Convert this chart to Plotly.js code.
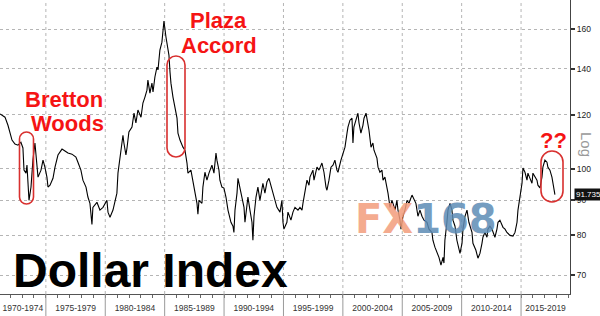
<!DOCTYPE html>
<html>
<head>
<meta charset="utf-8">
<script src="https://cdn.plot.ly/plotly-3.0.1.min.js"></script>
<style>
html,body{margin:0;padding:0;background:#fff;}
#chart{width:600px;height:316px;}
</style>
</head>
<body>
<div id="chart"></div>
<script>
// ---- data ----
const periodStarts = [1970, 1975, 1980, 1985, 1990, 1995, 2000, 2005, 2010, 2015];
const periodLabels = ['1970-1974', '1975-1979', '1980-1984', '1985-1989', '1990-1994',
                      '1995-1999', '2000-2004', '2005-2009', '2010-2014', '2015-2019'];
const yTicks = [70, 80, 90, 100, 120, 140, 160];
const yTickText = ['70', '80', '90', '100', '120', '140', '160'];
const lastValue = 91.735;

const dxyYears = [
 1971.14,1971.56,1971.81,1972.15,1972.40,1972.65,1972.90,1973.07,1973.16,1973.33,
 1973.41,1973.49,1973.58,1973.75,1973.83,1973.91,1974.08,1974.25,1974.34,1974.59,
 1974.76,1974.92,1975.09,1975.18,1975.35,1975.60,1975.77,1976.02,1976.36,1976.61,
 1976.86,1977.20,1977.53,1977.70,1977.95,1978.12,1978.38,1978.54,1978.71,1978.88,
 1978.96,1979.30,1979.55,1979.81,1980.14,1980.23,1980.40,1980.65,1980.98,1981.07,
 1981.32,1981.49,1981.57,1981.74,1981.83,1981.99,1982.25,1982.42,1982.58,1982.75,
 1983.01,1983.17,1983.34,1983.51,1983.59,1983.76,1983.93,1984.02,1984.18,1984.35,
 1984.44,1984.60,1984.77,1984.86,1984.94,1985.11,1985.19,1985.36,1985.45,1985.53,
 1985.70,1985.87,1986.04,1986.12,1986.29,1986.54,1986.71,1986.88,1986.96,1987.21,
 1987.38,1987.55,1987.72,1987.80,1987.89,1988.14,1988.22,1988.39,1988.56,1988.73,
 1988.98,1989.15,1989.32,1989.40,1989.57,1989.65,1989.82,1989.99,1990.16,1990.33,
 1990.58,1990.75,1990.83,1990.92,1991.09,1991.17,1991.34,1991.51,1991.68,1991.76,
 1991.93,1992.01,1992.18,1992.35,1992.43,1992.52,1992.69,1992.85,1993.02,1993.27,
 1993.44,1993.61,1993.78,1993.95,1994.12,1994.28,1994.45,1994.71,1994.87,1994.96,
 1995.04,1995.29,1995.38,1995.63,1995.80,1995.97,1996.22,1996.39,1996.56,1996.64,
 1996.81,1996.98,1997.15,1997.23,1997.48,1997.57,1997.82,1997.99,1998.24,1998.41,
 1998.58,1998.66,1998.83,1999.00,1999.17,1999.33,1999.50,1999.59,1999.84,2000.01,
 2000.18,2000.35,2000.43,2000.60,2000.77,2000.85,2000.93,2001.10,2001.27,2001.36,
 2001.52,2001.69,2001.78,2001.95,2002.03,2002.20,2002.37,2002.53,2002.62,2002.87,
 2002.96,2003.12,2003.29,2003.38,2003.54,2003.71,2003.80,2003.97,2004.13,2004.22,
 2004.39,2004.55,2004.64,2004.81,2004.89,2005.06,2005.23,2005.40,2005.56,2005.82,
 2005.99,2006.15,2006.32,2006.49,2006.66,2006.83,2007.08,2007.25,2007.50,2007.58,
 2007.75,2007.92,2008.09,2008.26,2008.43,2008.51,2008.59,2008.76,2008.85,2009.02,
 2009.18,2009.27,2009.44,2009.60,2009.86,2010.03,2010.11,2010.28,2010.45,2010.61,
 2010.87,2010.95,2011.20,2011.37,2011.54,2011.71,2011.79,2011.96,2012.13,2012.21,
 2012.38,2012.55,2012.63,2012.80,2012.97,2013.06,2013.22,2013.39,2013.48,2013.65,
 2013.81,2014.07,2014.32,2014.49,2014.66,2014.74,2014.91,2015.08,2015.16,2015.33,
 2015.50,2015.58,2015.75,2015.92,2016.00,2016.17,2016.34,2016.42,2016.59,2016.76,
 2016.84,2017.01,2017.18,2017.26,2017.43,2017.60,2017.69,2017.81,2017.85
];
const dxyValues = [
 120.3,119.0,115.8,110.2,108.7,108.3,109.4,107.3,99.6,98.6,
 101.3,96.3,90.0,94.1,98.6,103.0,109.1,100.6,97.3,99.6,
 103.0,100.6,97.3,94.1,94.7,96.9,100.6,104.8,106.9,106.2,
 105.5,105.1,104.1,102.3,99.6,96.3,94.1,91.0,89.1,83.0,
 87.9,89.4,87.1,87.9,90.0,86.5,85.0,87.1,92.2,98.6,
 107.6,112.0,109.1,104.8,107.3,113.2,115.1,120.6,116.7,121.9,
 119.0,124.8,127.3,130.3,134.8,129.0,133.4,129.5,136.2,140.8,
 139.5,149.1,153.1,157.9,164.4,155.8,152.6,146.6,138.5,133.4,
 127.3,123.1,118.6,112.8,110.2,107.6,106.5,102.0,98.6,99.6,
 95.7,92.2,89.1,85.9,90.0,89.1,94.1,98.9,96.3,98.6,
 101.3,98.6,105.5,103.0,99.6,96.3,94.1,93.8,91.0,87.1,
 83.6,82.5,80.8,87.1,92.2,96.9,94.1,91.0,87.9,83.6,
 90.0,91.0,87.1,83.6,78.7,85.3,91.0,94.1,90.0,95.3,
 92.2,95.7,96.9,94.7,92.2,90.0,87.9,86.5,90.0,83.6,
 81.7,83.6,86.5,84.2,86.5,87.9,87.1,87.9,87.1,89.1,
 92.2,96.3,94.7,97.3,99.6,96.3,100.6,99.6,102.0,98.9,
 94.1,93.1,96.3,100.6,101.3,103.0,99.6,98.9,103.0,105.8,
 107.6,112.8,115.1,117.8,118.6,109.1,115.1,117.8,120.6,116.7,
 112.8,115.8,118.6,120.6,118.6,113.9,107.6,109.1,106.5,103.7,
 100.6,98.9,99.6,96.3,97.3,94.1,92.2,87.9,90.0,89.1,
 87.1,90.0,87.1,84.2,81.7,85.3,87.1,90.0,89.1,91.6,
 90.0,89.1,85.3,87.1,85.3,84.2,83.6,81.7,80.8,78.7,
 76.9,75.6,74.3,72.4,74.3,72.9,78.7,83.6,87.1,89.1,
 87.1,84.2,82.5,78.7,75.3,77.9,81.7,85.3,87.1,83.6,
 80.8,77.9,76.1,74.1,75.3,77.9,79.5,80.8,79.5,81.7,
 82.5,81.7,80.8,79.5,81.7,83.6,84.2,83.0,82.2,81.7,
 80.8,80.0,79.8,80.8,83.6,87.1,91.0,95.3,100.3,98.9,
 96.3,98.6,96.9,95.3,98.6,97.3,96.3,94.7,93.8,97.3,
 100.6,103.0,102.3,100.6,99.6,97.3,95.3,92.5,91.735
];

// ---- geometry helpers (pixels -> paper) ----
const W = 600, H = 316, M = {l: 0, r: 30, t: 0, b: 22};
const PW = W - M.l - M.r, PH = H - M.t - M.b;
const X0 = 1971.14, X1 = 2019.12;
const yRange = [Math.log10(65.7), Math.log10(176.4)];
const px = x => x / PW;
const py = y => 1 - y / PH;
const FONT = '"Liberation Sans", Arial, sans-serif';
const RED = '#f51414';

function stadium(x0, y0, x1, y1) {
  const r = (x1 - x0) / 2, k = 0.5523 * r, cx = (x0 + x1) / 2;
  const P = (x, y) => px(x).toFixed(5) + ',' + py(y).toFixed(5);
  return 'M' + P(x0, y0 + r) +
    ' C' + P(x0, y0 + r - k) + ' ' + P(cx - k, y0) + ' ' + P(cx, y0) +
    ' C' + P(cx + k, y0) + ' ' + P(x1, y0 + r - k) + ' ' + P(x1, y0 + r) +
    ' L' + P(x1, y1 - r) +
    ' C' + P(x1, y1 - r + k) + ' ' + P(cx + k, y1) + ' ' + P(cx, y1) +
    ' C' + P(cx - k, y1) + ' ' + P(x0, y1 - r + k) + ' ' + P(x0, y1 - r) + ' Z';
}

const labelPos = periodStarts.map(s => (Math.max(s, X0) + Math.min(s + 5, X1)) / 2);
const minorYears = [];
for (let yv = Math.ceil(X0); yv <= X1; yv++) minorYears.push(yv);

const shapes = [];
periodStarts.filter(s => s > X0).forEach(s => {
  shapes.push({type: 'line', xref: 'x', yref: 'paper', x0: s, x1: s, y0: 0, y1: 1,
               line: {color: '#b5b5b5', width: 1, dash: 'dot'}, layer: 'below'});
  shapes.push({type: 'line', xref: 'x', yref: 'paper', x0: s, x1: s, y0: 0, y1: -M.b / PH,
               line: {color: '#9a9a9a', width: 1}});
});
// red loops
[[19.5, 132, 33.5, 204], [167, 56, 185, 157], [541, 151, 563, 202]].forEach(b => {
  shapes.push({type: 'path', xref: 'paper', yref: 'paper', path: stadium(...b),
               line: {color: '#d8302f', width: 1.6}});
});
// pointer of last-value tag
const ly = Math.log10(lastValue), dy = 6 / (PH / (yRange[1] - yRange[0]));
shapes.push({type: 'path', xref: 'paper', yref: 'y',
  path: `M${px(570)},${ly} L${px(574)},${ly + dy} L${px(574)},${ly - dy} Z`,
  fillcolor: '#111', line: {width: 0}});

const ann = (x, y, text, size, extra) => Object.assign({
  xref: 'paper', yref: 'paper', x: px(x), y: py(y), text: text, showarrow: false,
  xanchor: 'center', yanchor: 'middle',
  font: {family: FONT, size: size, color: RED}
}, extra || {});

const annotations = [
  ann(64, 100, '<b>Bretton</b>', 22),
  ann(67, 123, '<b>Woods</b>', 22),
  ann(219, 21, '<b>Plaza</b>', 22),
  ann(219, 45, '<b>Accord</b>', 22),
  ann(553, 140, '<b>??</b>', 22),
  ann(11, 270, '<b>Dollar Index</b>', 48, {xanchor: 'left', font: {family: FONT, size: 48, color: '#000'}}),
  ann(426, 219, '<b><span style="color:#f39d7c">FX</span><span style="color:#5d8cb6">168</span></b>', 40,
      {opacity: 0.85, font: {family: '"DejaVu Sans", sans-serif', size: 40, color: '#5d8cb6'}}),
  ann(587, 144, 'Log', 15, {textangle: 90, font: {family: FONT, size: 15, color: '#9a9a9a'}}),
  {xref: 'paper', yref: 'y', x: px(574), y: ly, xanchor: 'left', yanchor: 'middle',
   text: lastValue.toFixed(3), showarrow: false, bgcolor: '#111', borderpad: 1,
   font: {family: FONT, size: 8, color: '#fff'}}
];

const trace = {
  type: 'scatter', mode: 'lines', x: dxyYears, y: dxyValues,
  line: {color: '#000', width: 1.1}, hoverinfo: 'skip'
};

const layout = {
  width: W, height: H, margin: M, showlegend: false,
  paper_bgcolor: '#fff', plot_bgcolor: '#fff',
  font: {family: FONT, color: '#333'},
  xaxis: {
    range: [X0, X1], tickmode: 'array', tickvals: labelPos, ticktext: periodLabels,
    ticks: '', showgrid: false, zeroline: false, showline: true, linecolor: '#555', linewidth: 1,
    tickfont: {family: FONT, size: 8.5, color: '#333'}, ticklabelstandoff: 6,
    minor: {tickmode: 'array', tickvals: minorYears, ticks: 'outside', ticklen: 3,
            tickcolor: '#666', tickwidth: 1, showgrid: false},
    fixedrange: true
  },
  yaxis: {
    type: 'log', side: 'right', range: yRange, tickmode: 'array',
    tickvals: yTicks, ticktext: yTickText, ticks: 'outside', ticklen: 4, tickwidth: 2,
    tickcolor: '#333', showline: true, linecolor: '#444', linewidth: 1,
    showgrid: true, gridcolor: '#b5b5b5', griddash: 'dot', gridwidth: 1,
    zeroline: false, tickfont: {family: FONT, size: 8.5, color: '#222'}, fixedrange: true
  },
  shapes: shapes,
  annotations: annotations
};

Plotly.newPlot('chart', [trace], layout, {staticPlot: true, displayModeBar: false});
</script>
</body>
</html>
